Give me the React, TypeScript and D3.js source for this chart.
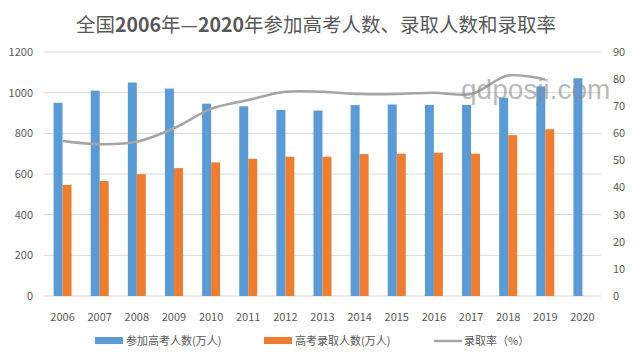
import React from "react";
import * as d3 from "d3";

const years = ["2006","2007","2008","2009","2010","2011","2012","2013","2014","2015","2016","2017","2018","2019","2020"];
const applicants = [950, 1010, 1050, 1020, 946, 933, 915, 912, 939, 942, 940, 940, 975, 1031, 1071];
const admitted: (number | null)[] = [546, 566, 599, 629, 657, 675, 685, 685, 698, 700, 705, 700, 791, 820, null];
const rate: (number | null)[] = [57.2, 56.0, 56.9, 61.9, 69.0, 72.3, 75.3, 75.3, 74.5, 74.5, 75.0, 74.5, 81.3, 79.8, null];
const leftTicks = [0, 200, 400, 600, 800, 1000, 1200];
const rightTicks = [0, 10, 20, 30, 40, 50, 60, 70, 80, 90];
const titleParts: [string, boolean][] = [["全国", false], ["2006", true], ["年—", false], ["2020", true], ["年参加高考人数、录取人数和录取率", false]];
const legendLabels = ["参加高考人数(万人)", "高考录取人数(万人)", "录取率（%）"];

const W = 638, H = 353;
const plot = { left: 44, right: 601, top: 52, bottom: 296 };
const FONT = "'Noto Sans CJK SC', 'Noto Sans', sans-serif";
const TXT = "#595959";

export default function App() {
  const x = d3.scaleBand<string>().domain(years).range([plot.left, plot.right]);
  const yL = d3.scaleLinear().domain([0, 1200]).range([plot.bottom, plot.top]);
  const yR = d3.scaleLinear().domain([0, 90]).range([plot.bottom, plot.top]);
  const bw = 9;
  const center = (y: string) => (x(y) as number) + x.bandwidth() / 2;
  const line = d3.line<number | null>()
    .defined(d => d != null)
    .x((_, i) => center(years[i]))
    .y(d => yR(d as number))
    .curve(d3.curveCatmullRom.alpha(0.5));

  return (
    <svg width={W} height={H} style={{ position: "absolute", left: 0, top: 0, background: "#fff" }} fontFamily={FONT}>
      <text x={316} y={32} textAnchor="middle" fontSize={19.5} fill={TXT}>
        {titleParts.map(([t, b], i) => (
          <tspan key={i} fontWeight={b ? "bold" : "normal"}>{t}</tspan>
        ))}
      </text>
      {leftTicks.map(t => (
        <g key={"l" + t}>
          <line x1={plot.left} x2={plot.right} y1={yL(t)} y2={yL(t)} stroke="#D9D9D9" strokeWidth={1} />
          <text x={33} y={yL(t)} dy="0.35em" textAnchor="end" fontSize={11} fill={TXT}>{t}</text>
        </g>
      ))}
      {rightTicks.map(t => (
        <text key={"r" + t} x={613} y={yR(t)} dy="0.35em" textAnchor="start" fontSize={11} fill={TXT}>{t}</text>
      ))}
      {years.map((yr, i) => (
        <g key={yr}>
          <rect x={center(yr) - bw} y={yL(applicants[i])} width={bw} height={plot.bottom - yL(applicants[i])} fill="#5B9BD5" />
          {admitted[i] != null && (
            <rect x={center(yr)} y={yL(admitted[i] as number)} width={bw} height={plot.bottom - yL(admitted[i] as number)} fill="#ED7D31" />
          )}
          <text x={center(yr)} y={317} dy="0.35em" textAnchor="middle" fontSize={11} fill={TXT}>{yr}</text>
        </g>
      ))}
      <path d={line(rate) || ""} fill="none" stroke="#A5A5A5" strokeWidth={2.5} strokeLinejoin="round" />
      <text x={461} y={99} fontSize={28} fontFamily="'Liberation Sans', Arial, sans-serif" fill="#8a8a8a" fillOpacity={0.6}>qdposji.com</text>
      <g fontSize={11} fill={TXT}>
        <rect x={95} y={337} width={28} height={7} fill="#5B9BD5" />
        <text x={126} y={341} dy="0.35em">{legendLabels[0]}</text>
        <rect x={264} y={337} width={28} height={7} fill="#ED7D31" />
        <text x={295} y={341} dy="0.35em">{legendLabels[1]}</text>
        <line x1={434} x2={462} y1={341} y2={341} stroke="#A5A5A5" strokeWidth={2.5} />
        <text x={464} y={341} dy="0.35em">{legendLabels[2]}</text>
      </g>
    </svg>
  );
}
